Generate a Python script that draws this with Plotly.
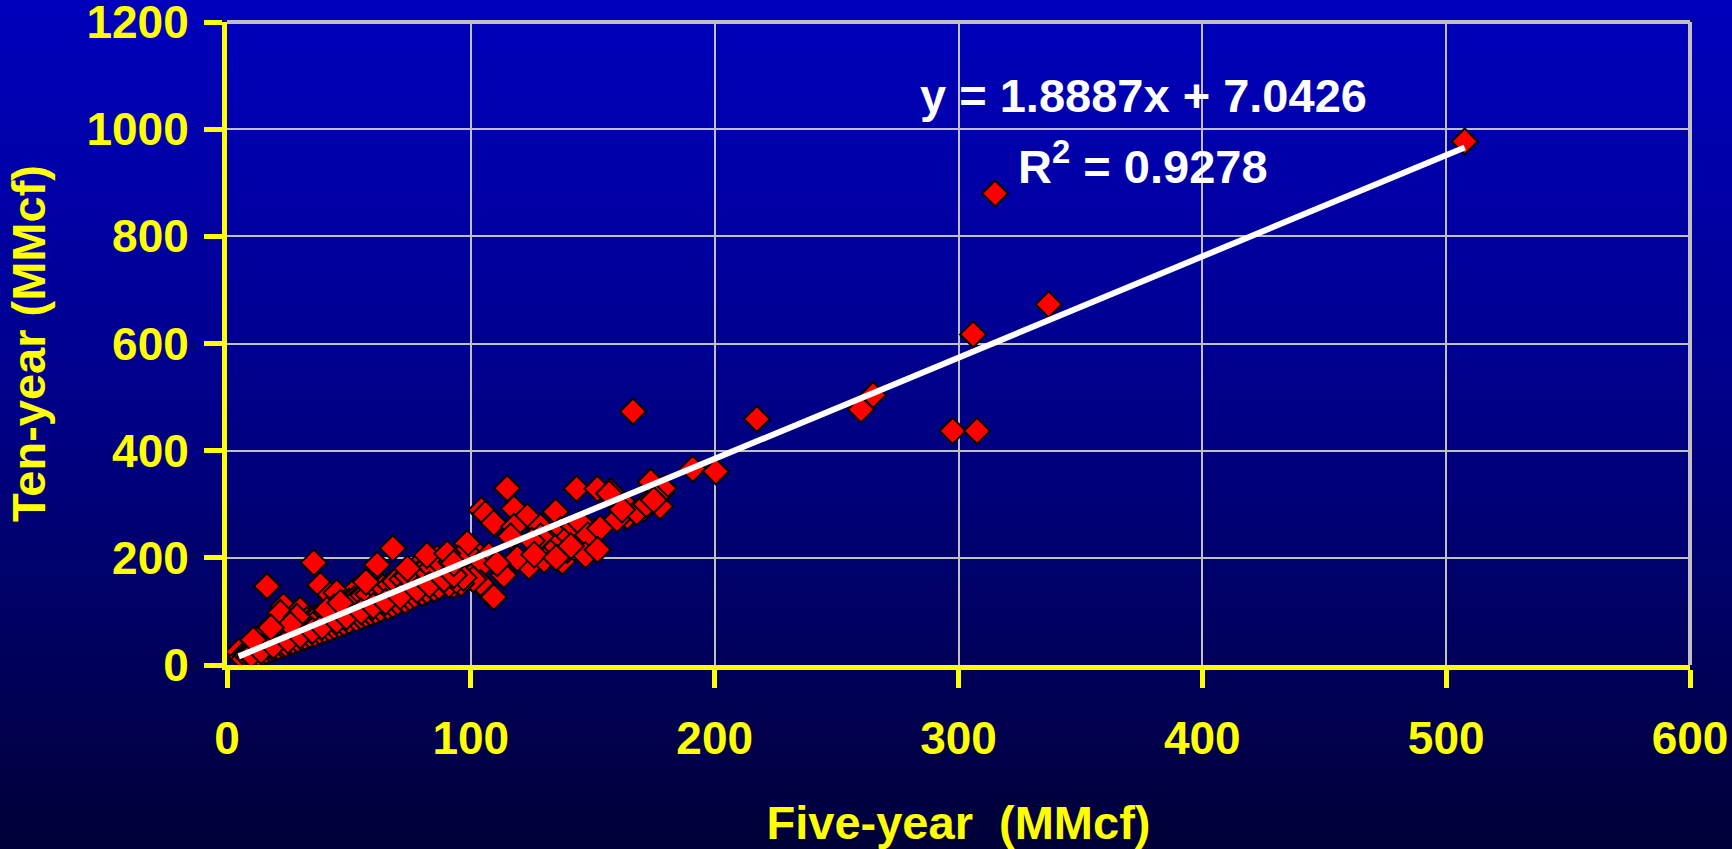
import zlib, struct, base64
import plotly.graph_objects as go

# ---------------- data ----------------
five_year = [
    507.6, 315, 337, 306, 297.6, 307.6, 166.5, 217.3, 260, 265,
    191, 200.5, 173.8, 177.9, 179, 114.9, 143.4, 157.3, 151.9, 156.7,
    176, 177.6, 163.5, 171, 164.2, 104.3, 106, 109.4, 117.7, 123.2,
    134.8, 128.6, 117.7, 116.3, 136.8, 142.3, 150.5, 146.4, 138.2, 132.7,
    128.6, 125, 132.7, 137.5, 139.6, 123.8, 119, 113.5, 107.4, 109.4,
    100.5, 98, 107.4, 104, 99.9, 110.8, 104, 101, 68, 61.6,
    35.6, 16.4, 38.3, 23.2, 30, 52.7, 42.4, 45, 79.4, 86.2,
    98.5, 78, 93, 90, 96, 60.2, 65.7, 71.1, 32.8, 23.9,
    15, 4.8, 145, 148, 153, 160, 168, 172, 175, 162,
    147, 152, 130, 141, 126, 135,
    6, 8, 9, 11, 12, 14, 15, 17, 18, 20, 21, 22, 24, 26, 27, 28, 29, 31, 33, 34,
    36, 37, 39, 41, 43, 44, 46, 48, 50, 52, 54, 56, 58, 62, 64, 67, 69, 72, 74, 76,
    81, 84, 88, 92, 95,
    7, 9, 10, 12, 13, 15, 16, 18, 19, 21, 23, 24, 26, 27, 29, 31, 32, 34, 36, 38,
    40, 42, 44, 46, 48, 50, 53, 55, 57, 59, 61, 63, 66, 68, 70, 73, 75, 77, 80, 82,
    85, 87, 91, 94, 97,
    10, 14, 19, 25, 30, 35, 39, 45, 49, 55, 60, 65, 71, 78, 83, 89, 93,
    10.8, 21.9, 28.7, 41, 46.5, 26, 18, 57, 74, 82, 90.3, 93,
]
ten_year = [
    977, 880, 673, 617, 437, 437, 473, 459, 477, 504,
    366, 361, 342, 321, 330, 330, 329, 324, 329, 320,
    312, 296, 299, 292, 277, 289, 282, 265, 292, 277,
    286, 258, 258, 240, 252, 258, 249, 233, 230, 227,
    240, 232, 209, 193, 215, 184, 199, 168, 134, 127,
    218, 212, 205, 184, 165, 190, 153, 160, 218, 187,
    191, 147, 149, 110, 103, 140, 131, 135, 190, 199,
    227, 168, 149, 155, 152, 146, 134, 128, 84, 81,
    59, 25, 265, 242, 255, 272, 285, 300, 308, 290,
    205, 215, 196, 222, 206, 200,
    14, 18, 22, 25, 28, 30, 34, 38, 42, 44, 48, 52, 55, 58, 62, 66, 70, 72, 76, 80,
    86, 90, 92, 97, 102, 108, 110, 115, 118, 122, 125, 130, 132, 140, 145, 150, 156, 160, 166, 172,
    178, 182, 188, 192, 198,
    11, 14, 16, 19, 21, 24, 26, 29, 31, 34, 37, 39, 42, 44, 47, 50, 52, 56, 58, 62,
    65, 68, 72, 75, 78, 82, 86, 90, 94, 97, 100, 104, 108, 112, 117, 120, 125, 130, 134, 138,
    142, 146, 150, 158, 163,
    19, 26, 36, 46, 55, 64, 72, 82, 90, 100, 110, 118, 128, 140, 150, 160, 168,
    47, 97, 90, 103, 116, 75, 70, 155, 180, 205, 208, 190,
]

slope = 1.8887
intercept = 7.0426
r_squared = 0.9278

x_ticks = [0, 100, 200, 300, 400, 500, 600]
y_ticks = [0, 200, 400, 600, 800, 1000, 1200]

x_title = "Five-year\u00a0 (MMcf)"
y_title = "Ten-year (MMcf)"

# ---------------- figure geometry ----------------
W, H = 1732, 849
ML, MR, MT, MB = 227, 42, 22, 184
PW, PH = W - ML - MR, H - MT - MB

FONT = "Liberation Sans, Arial, sans-serif"
YELLOW = "#FFFF00"
GRID = "#C0C0C0"


def gradient_png(stops, h):
    rows = []
    for yy in range(h):
        for (y0, c0), (y1, c1) in zip(stops[:-1], stops[1:]):
            if y0 <= yy <= y1:
                t = (yy - y0) / (y1 - y0) if y1 > y0 else 0
                col = [round(a + (b - a) * t) for a, b in zip(c0, c1)]
                break
        rows.append(b"\x00" + bytes(col) * 2)
    raw = b"".join(rows)

    def chunk(tag, data):
        return (struct.pack(">I", len(data)) + tag + data
                + struct.pack(">I", zlib.crc32(tag + data) & 0xFFFFFFFF))

    png = (b"\x89PNG\r\n\x1a\n"
           + chunk(b"IHDR", struct.pack(">IIBBBBB", 2, h, 8, 2, 0, 0, 0))
           + chunk(b"IDAT", zlib.compress(raw))
           + chunk(b"IEND", b""))
    return "data:image/png;base64," + base64.b64encode(png).decode()


bg_stops = [(0, (0, 0, 188)), (200, (0, 0, 165)), (400, (0, 0, 136)),
            (600, (0, 0, 102)), (H - 1, (0, 0, 55))]
bg_src = gradient_png(bg_stops, H)

fig = go.Figure()

fig.add_trace(go.Scatter(
    x=five_year, y=ten_year, mode="markers",
    marker=dict(symbol="diamond", size=20, color="#FF0000",
                line=dict(color="#000000", width=2)),
    showlegend=False, hoverinfo="x+y",
))

x_lo, x_hi = min(five_year), max(five_year)
fig.add_trace(go.Scatter(
    x=[x_lo, x_hi], y=[slope * x_lo + intercept, slope * x_hi + intercept],
    mode="lines", line=dict(color="#FFFFFF", width=6),
    showlegend=False, hoverinfo="skip",
))

axis_common = dict(
    showline=True, linecolor=YELLOW, linewidth=5,
    ticks="outside", tickcolor=YELLOW, tickwidth=5, ticklen=18,
    showgrid=True, gridcolor=GRID, gridwidth=1.5,
    zeroline=False,
    tickfont=dict(family=FONT, size=46, color=YELLOW, weight="bold"),
    automargin=False, ticklabeloverflow="allow",
)

fig.update_xaxes(
    range=[0, 600], tickvals=x_ticks, ticktext=[str(v) for v in x_ticks],
    title=dict(text=x_title, standoff=44,
               font=dict(family=FONT, size=47, color=YELLOW, weight="bold")),
    ticklabelstandoff=11,
    **axis_common,
)
fig.update_yaxes(
    range=[0, 1200], tickvals=y_ticks, ticktext=[str(v) for v in y_ticks],
    title=dict(text=y_title, standoff=28,
               font=dict(family=FONT, size=47, color=YELLOW, weight="bold")),
    ticklabelstandoff=6,
    **axis_common,
)

# grey frame on top and right of the plot area
fig.add_shape(type="line", xref="paper", yref="paper", x0=0, x1=1, y0=1, y1=1,
              line=dict(color=GRID, width=4), layer="above")
fig.add_shape(type="line", xref="paper", yref="paper", x0=1, x1=1, y0=0, y1=1,
              line=dict(color=GRID, width=4), layer="above")

eq_font = dict(family=FONT, size=47, color="#FFFFFF", weight="bold")
fig.add_annotation(x=375.7, y=1062, xref="x", yref="y", showarrow=False,
                   text=f"y = {slope}x + {intercept}", font=eq_font,
                   xanchor="center", yanchor="middle")
fig.add_annotation(x=375.7, y=936, xref="x", yref="y", showarrow=False,
                   text=f"R<sup>2</sup> = {r_squared}", font=eq_font,
                   xanchor="center", yanchor="middle")

fig.add_layout_image(dict(
    source=bg_src, xref="paper", yref="paper",
    x=-ML / PW, y=1 + MT / PH, sizex=W / PW, sizey=H / PH,
    xanchor="left", yanchor="top", sizing="stretch", layer="below",
))

fig.update_layout(
    width=W, height=H,
    margin=dict(l=ML, r=MR, t=MT, b=MB, pad=0),
    paper_bgcolor="#00007A", plot_bgcolor="rgba(0,0,0,0)",
    showlegend=False,
)

fig.write_html(
    "out.html",
    config={"displayModeBar": False},
    post_script="document.body.style.margin='0';document.body.style.overflow='hidden';",
)
